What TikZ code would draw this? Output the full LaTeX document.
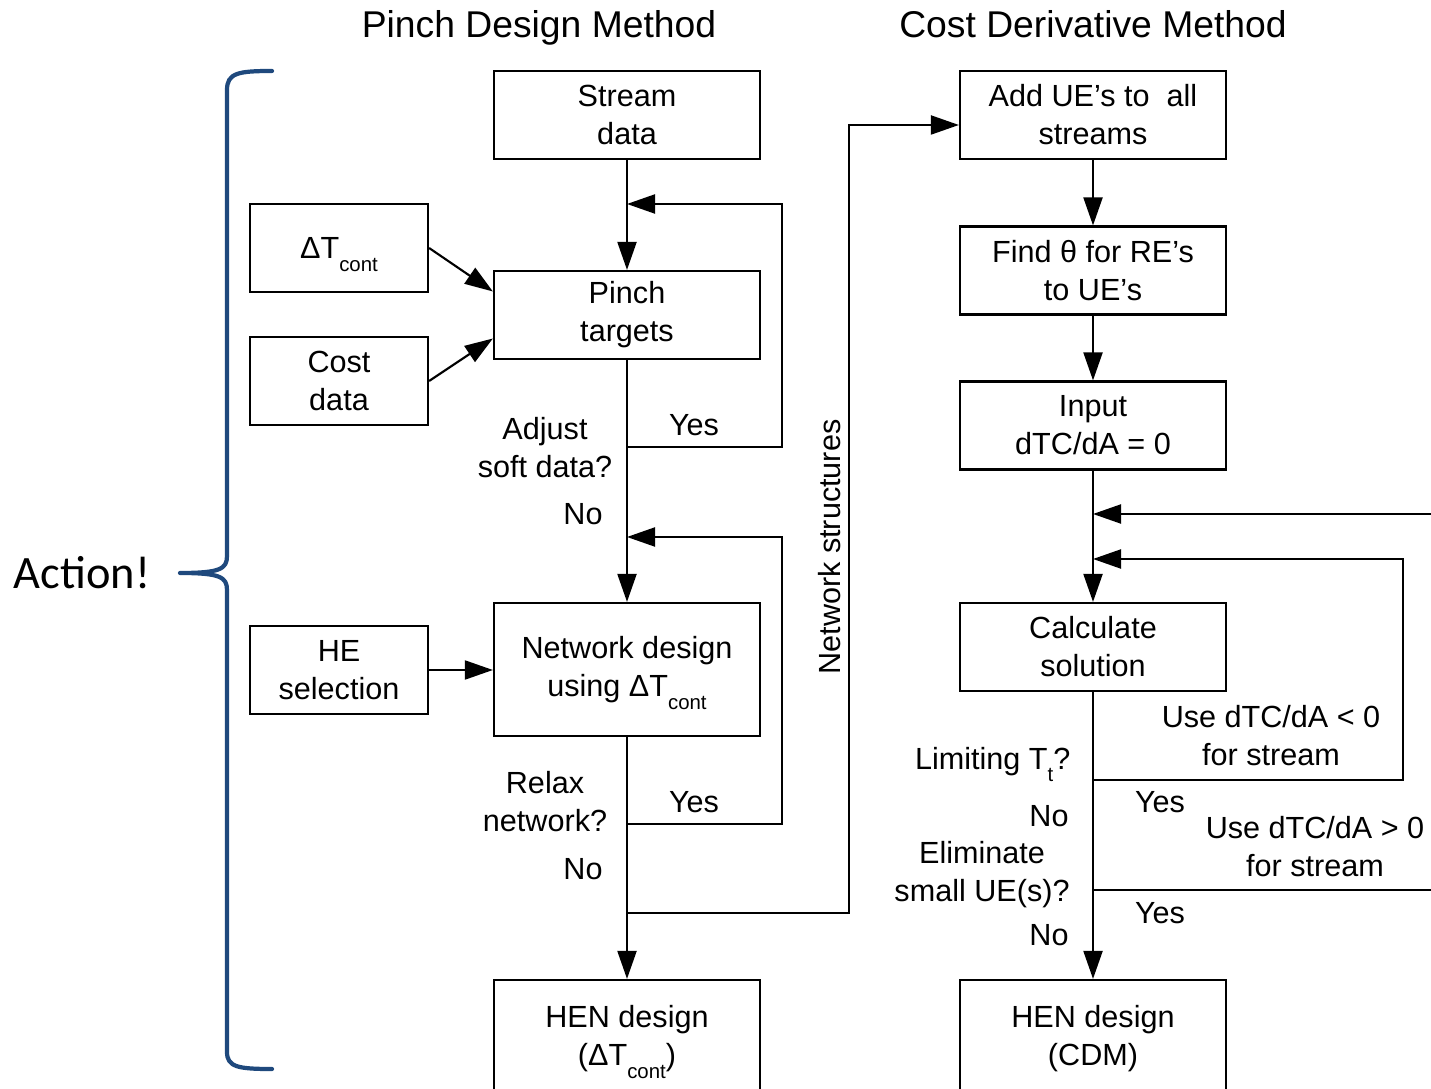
\documentclass[tikz,border=0pt]{standalone}
\usepackage{fontspec}
\setmainfont{Liberation Sans}
\newfontfamily\actionfont{Carlito}
\usetikzlibrary{arrows.meta}
\definecolor{braceblue}{RGB}{31,73,125}
% lowered small subscript, as in ΔT_cont (no effect on line height)
\newcommand{\lowsub}[1]{\raisebox{-0.8ex}[0pt][0pt]{\fontsize{5.8}{6}\selectfont #1}}

\begin{document}
\begin{tikzpicture}[x=0.01cm,y=-0.01cm,
  font=\fontsize{8.7}{10.8}\selectfont,
  box/.style={draw, line width=0.6pt, align=center, inner sep=0pt,
              minimum width=2.66cm, minimum height=0.88cm},
  smallbox/.style={box, minimum width=1.78cm},
  lbl/.style={align=center, inner sep=0pt},
  flow/.style={line width=0.6pt, -{Triangle[length=0.28cm,width=0.19cm]}},
  link/.style={line width=0.6pt},
  title/.style={font=\fontsize{10.6}{12}\selectfont, inner sep=0pt, anchor=base},
  brace/.style={draw=braceblue, line width=1.2pt, line join=round, line cap=round},
]
\useasboundingbox (0,0) rectangle (1431,1089);
\clip (0,0) rectangle (1431,1089);

% column titles
\node[title] (t1) at (539,38) {Pinch Design Method};
\node[title] (t2) at (1093,38) {Cost Derivative Method};

% Pinch design method
\node[box] (sd) at (627,115) {Stream\\data};
\node[box] (pt) at (627,315) {Pinch\\targets};
\node[box, minimum height=1.33cm] (nd) at (627,669.5) {Network design\\using ΔT\lowsub{cont}};
\node[box, minimum height=1.18cm] (hp) at (627,1039) {HEN design\\(ΔT\lowsub{cont})};
\node[smallbox] (dt) at (339,248) {ΔT\lowsub{cont}};
\node[smallbox] (cd) at (339,381) {Cost\\data};
\node[smallbox] (he) at (339,670) {HE\\selection};

% Cost derivative method
\node[box] (ue) at (1093,115) {Add UE’s to \ all\\streams};
\node[box] (ft) at (1093,270.5) {Find θ for RE’s\\to UE’s};
\node[box] (in) at (1093,425.5) {Input\\dTC/dA = 0};
\node[box] (cs) at (1093,647) {Calculate\\solution};
\node[box, minimum height=1.18cm] (hc) at (1093,1039) {HEN design\\(CDM)};

% junction points of the loops
\coordinate (a1) at (627,447);
\coordinate (a2) at (782,447);
\coordinate (a3) at (782,204);
\coordinate (a4) at (627,204);
\coordinate (b1) at (627,824);
\coordinate (b2) at (782,824);
\coordinate (b3) at (782,537);
\coordinate (b4) at (627,537);
\coordinate (c1) at (627,913);
\coordinate (c2) at (849,913);
\coordinate (c3) at (849,125);
\coordinate (r0) at (1445,514);
\coordinate (r1) at (1093,514);
\coordinate (d1) at (1093,780);
\coordinate (d2) at (1403,780);
\coordinate (d3) at (1403,559);
\coordinate (d4) at (1093,559);
\coordinate (e1) at (1093,890);
\coordinate (e2) at (1445,890);

% left flow
\draw[flow] (sd) -- (pt);
\draw[flow] (pt) -- (nd);
\draw[flow] (nd) -- (hp);
\draw[flow] (a1) -- (a2) -- (a3) -- (a4);
\draw[flow] (b1) -- (b2) -- (b3) -- (b4);
\draw[flow] (c1) -- (c2) -- (c3) -- (c3 -| ue.west);
\draw[flow] (dt.east) -- ([yshift=0.235cm]pt.west);
\draw[flow] (cd.east) -- ([yshift=-0.235cm]pt.west);
\draw[flow] (he.east) -- (he.east -| nd.west);

% right flow
\draw[flow] (ue) -- (ft);
\draw[flow] (ft) -- (in);
\draw[flow] (in) -- (cs);
\draw[flow] (cs) -- (hc);
\draw[flow] (r0) -- (r1);
\draw[flow] (d1) -- (d2) -- (d3) -- (d4);
\draw[link] (e1) -- (e2);

% decision labels, left
\node[lbl] (l1) at (694,425) {Yes};
\node[lbl] (l2) at (545,447.5) {Adjust\\soft data?};
\node[lbl] (l3) at (583,514) {No};
\node[lbl] (l4) at (694,802) {Yes};
\node[lbl] (l5) at (545,802) {Relax\\network?};
\node[lbl] (l6) at (583,869) {No};
\node[lbl, rotate=90] (l7) at (830,547) {Network structures};

% decision labels, right
\node[lbl] (m1) at (1271,735.5) {Use dTC/dA < 0\\for stream};
\node[lbl, anchor=base east] (m2) at (1071,769) {Limiting T\lowsub{t}?};
\node[lbl] (m3) at (1160,802) {Yes};
\node[lbl] (m4) at (1049,816) {No};
\node[lbl] (m5) at (1315,847) {Use dTC/dA > 0\\for stream};
\node[lbl] (m6) at (982,875) {Eliminate\\small UE(s)?};
\node[lbl] (m7) at (1160,913) {Yes};
\node[lbl] (m8) at (1049,935) {No};

% brace grouping the steps
\path[brace] (272,71) .. controls (238,71) and (227,73) .. (227,90)
  -- (227,556) .. controls (227,569) and (220,573) .. (180,573)
  .. controls (220,573) and (227,577) .. (227,590)
  -- (227,1052) .. controls (227,1067) and (238,1069) .. (272,1069);
\node[font=\actionfont\fontsize{13.2}{14}\selectfont, inner sep=0pt] (act) at (82,573) {Action!};
\end{tikzpicture}
\end{document}
